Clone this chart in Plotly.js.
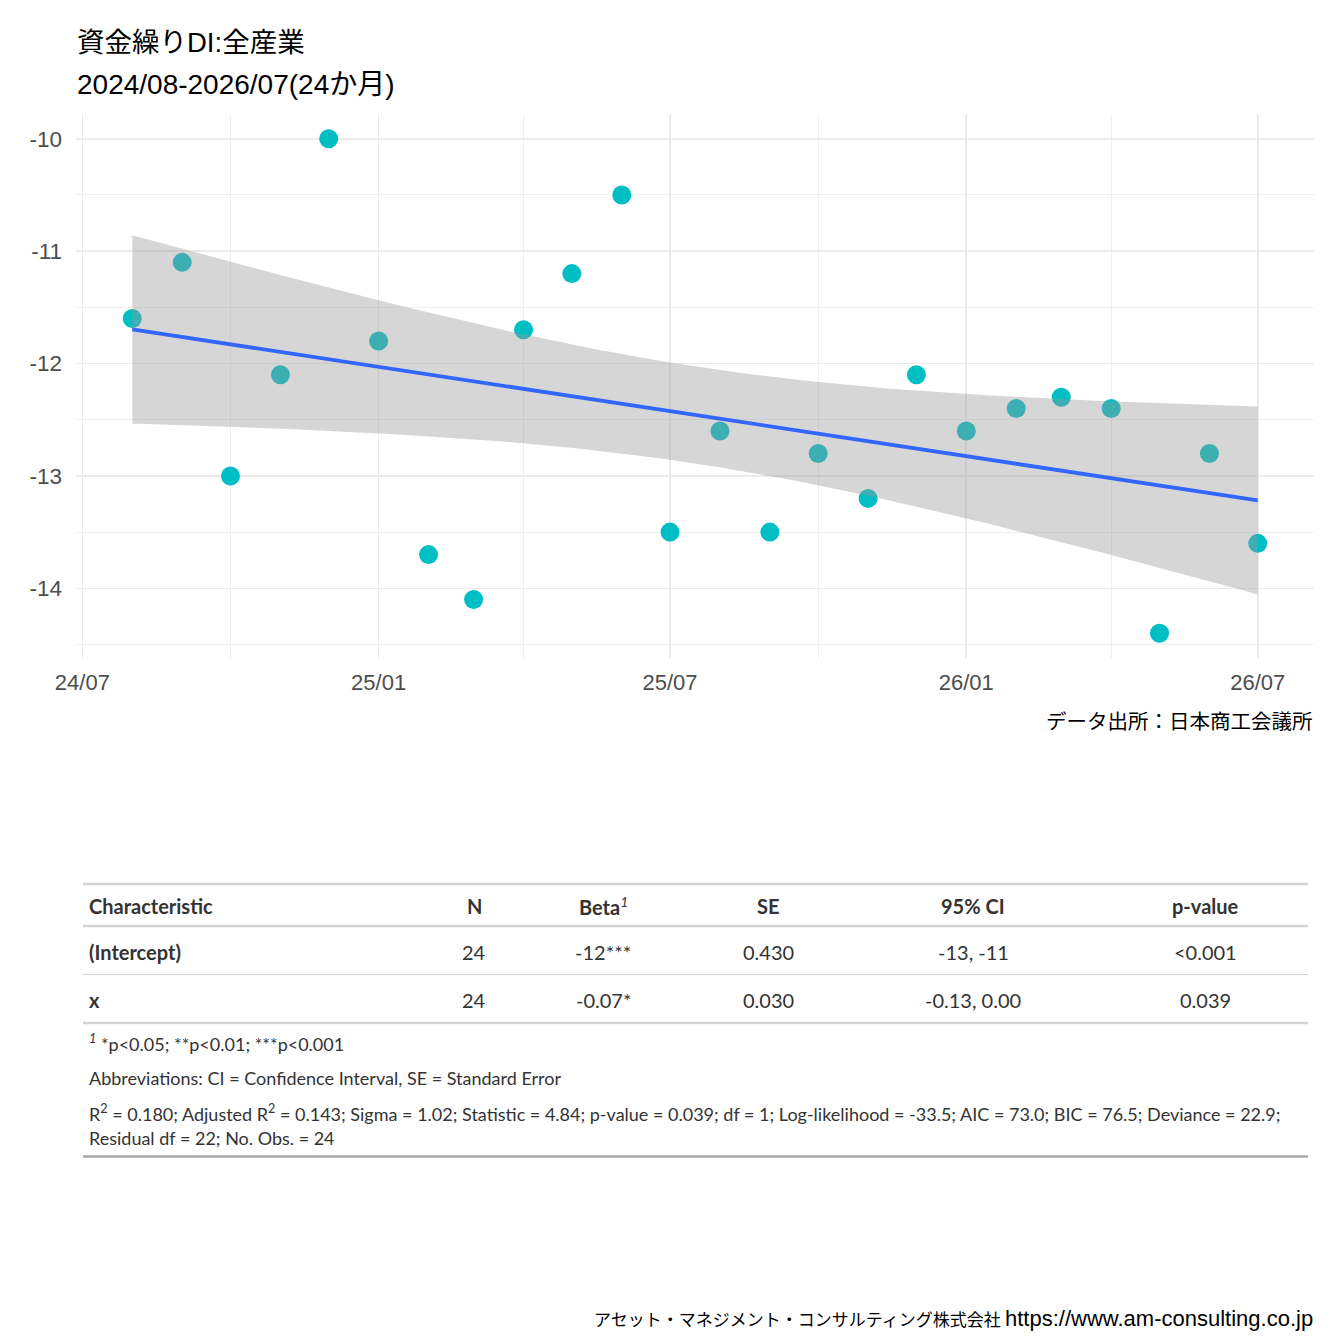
<!DOCTYPE html>
<html>
<head>
<meta charset="utf-8">
<script src="https://cdn.plot.ly/plotly-3.0.1.min.js"></script>
<style>
  html, body { margin: 0; padding: 0; background: #fff; }
  #chart { width: 1344px; height: 1344px; }
</style>
</head>
<body>
<div id="chart"></div>
<script>
// monthly values
var months = ['2024-08-01', '2024-09-01', '2024-10-01', '2024-11-01', '2024-12-01', '2025-01-01',
              '2025-02-01', '2025-03-01', '2025-04-01', '2025-05-01', '2025-06-01', '2025-07-01',
              '2025-08-01', '2025-09-01', '2025-10-01', '2025-11-01', '2025-12-01', '2026-01-01',
              '2026-02-01', '2026-03-01', '2026-04-01', '2026-05-01', '2026-06-01', '2026-07-01'];
var di = [-11.6, -11.1, -13.0, -12.1, -10.0, -11.8, -13.7, -14.1, -11.7, -11.2, -10.5, -13.5,
          -12.6, -13.5, -12.8, -13.2, -12.1, -12.6, -12.4, -12.3, -12.4, -14.4, -12.8, -13.6];

var yTicks = [-14, -13, -12, -11, -10];
var yTickText = ['-14', '-13', '-12', '-11', '-10'];

// regression table (gtsummary style)
var tblHeader = ['Characteristic', 'N', 'Beta', 'SE', '95% CI', 'p-value'];
var tblTerms = ['(Intercept)', 'x'];
var tblN = ['24', '24'];
var tblBeta = ['-12***', '-0.07*'];
var tblSE = ['0.430', '0.030'];
var tblCI = ['-13, -11', '-0.13, 0.00'];
var tblP = ['<0.001', '0.039'];
var tblNotes = [
  '<i><sup>1</sup></i> *p<0.05; **p<0.01; ***p<0.001',
  'Abbreviations: CI = Confidence Interval, SE = Standard Error',
  'R<sup>2</sup> = 0.180; Adjusted R<sup>2</sup> = 0.143; Sigma = 1.02; Statistic = 4.84; p-value = 0.039; df = 1; Log-likelihood = -33.5; AIC = 73.0; BIC = 76.5; Deviance = 22.9;',
  'Residual df = 22; No. Obs. = 24'
];

// ---- linear fit + 95% band (like geom_smooth(method = "lm")) ----
var DAY = 86400000;
var t0 = Date.parse(months[0] + 'T00:00:00Z');
var xs = months.map(function (m) { return (Date.parse(m + 'T00:00:00Z') - t0) / DAY; });
var n = xs.length;
var xbar = 0, ybar = 0;
for (var i = 0; i < n; i++) { xbar += xs[i]; ybar += di[i]; }
xbar /= n; ybar /= n;
var sxx = 0, sxy = 0;
for (var i = 0; i < n; i++) { sxx += (xs[i] - xbar) * (xs[i] - xbar); sxy += (xs[i] - xbar) * (di[i] - ybar); }
var slope = sxy / sxx;
var icpt = ybar - slope * xbar;
var ssr = 0;
for (var i = 0; i < n; i++) { var r = di[i] - (icpt + slope * xs[i]); ssr += r * r; }
var sigma = Math.sqrt(ssr / (n - 2));
var tcrit = 2.0739; // qt(0.975, 22)

function toDateStr(d) {
  return new Date(t0 + d * DAY).toISOString().slice(0, 19).replace('T', ' ');
}

var gx = [], gfit = [], gup = [], glo = [];
var xmax = xs[n - 1];
for (var k = 0; k < 80; k++) {
  var d = xmax * k / 79;
  var f = icpt + slope * d;
  var se = sigma * Math.sqrt(1 / n + (d - xbar) * (d - xbar) / sxx);
  gx.push(toDateStr(d));
  gfit.push(f);
  gup.push(f + tcrit * se);
  glo.push(f - tcrit * se);
}

// axis ranges with ggplot's 5% expansion
var ymin = Math.min.apply(null, di), ymax = Math.max.apply(null, di);
var yr = [ymin - 0.05 * (ymax - ymin), ymax + 0.05 * (ymax - ymin)];
var xr = [toDateStr(-0.05 * xmax), toDateStr(xmax * 1.05)];

var pts = {
  x: months, y: di, type: 'scatter', mode: 'markers',
  marker: { color: '#00BFC4', size: 19 },
  hoverinfo: 'skip', showlegend: false
};
var band = {
  x: gx.concat(gx.slice().reverse()),
  y: gup.concat(glo.slice().reverse()),
  type: 'scatter', mode: 'lines', fill: 'toself',
  fillcolor: 'rgba(153,153,153,0.4)', line: { width: 0 },
  hoverinfo: 'skip', showlegend: false
};
var fitLine = {
  x: gx, y: gfit, type: 'scatter', mode: 'lines',
  line: { color: '#3366FF', width: 3.8 },
  hoverinfo: 'skip', showlegend: false
};

// page is 1344 px square; place things in pixel terms
var W = 1344;
function px(x) { return x / W; }
function py(y) { return 1 - y / W; }

var sans = 'Liberation Sans, Arial, Noto Sans CJK JP';
var jp = 'Noto Sans CJK JP';
var tfont = 'Lato, Noto Sans, sans-serif';

var ann = [];
function addText(text, x, y, xanchor, size, color, family) {
  ann.push({
    text: text, xref: 'paper', yref: 'paper', x: px(x), y: py(y),
    xanchor: xanchor, yanchor: 'middle', showarrow: false,
    font: { family: family, size: size, color: color }
  });
}

// titles and captions
addText('資金繰りDI:全産業', 75, 42, 'left', 27.5, '#000000', sans);
addText('2024/08-2026/07(24か月)', 75, 84, 'left', 28, '#000000', sans);
addText('データ出所：日本商工会議所', 1315, 720, 'right', 20.5, '#000000', jp);
addText('https://www.am-consulting.co.jp', 1315, 1318, 'right', 22, '#000000', sans);
addText('アセット・マネジメント・コンサルティング株式会社', 1003, 1318, 'right', 17, '#000000', jp);

// table
var colX = [87, 474, 603, 768, 973, 1205];
var tcol = '#333333';
for (var c = 0; c < tblHeader.length; c++) {
  var h = '<b>' + tblHeader[c] + '</b>';
  if (tblHeader[c] === 'Beta') h += '<i><sup>1</sup></i>';
  addText(h, colX[c], 906, c === 0 ? 'left' : 'center', 20, tcol, tfont);
}
var rowY = [952, 1000];
for (var r = 0; r < tblTerms.length; r++) {
  var cells = [tblN[r], tblBeta[r], tblSE[r], tblCI[r], tblP[r]];
  addText('<b>' + tblTerms[r] + '</b>', colX[0], rowY[r], 'left', 20, tcol, tfont);
  for (var c = 0; c < cells.length; c++) {
    addText(cells[c], colX[c + 1], rowY[r], 'center', 20, tcol, tfont);
  }
}
var noteY = [1043, 1078, 1113, 1138];
for (var k = 0; k < tblNotes.length; k++) {
  addText(tblNotes[k], 87, noteY[k], 'left', 18, tcol, tfont);
}

function hline(y, color, width) {
  return {
    type: 'line', xref: 'paper', yref: 'paper', x0: px(83), x1: px(1308), y0: py(y), y1: py(y),
    line: { color: color, width: width }
  };
}
var shapes = [
  hline(884, '#D3D3D3', 2.5),
  hline(926, '#D3D3D3', 2.5),
  hline(974.5, '#D3D3D3', 1.2),
  hline(1023, '#D3D3D3', 2.5),
  hline(1156.5, '#A8A8A8', 2.5)
];

var layout = {
  width: 1344, height: 1344,
  margin: { l: 0, r: 0, t: 0, b: 0 },
  paper_bgcolor: '#ffffff', plot_bgcolor: '#ffffff',
  showlegend: false,
  xaxis: {
    type: 'date', domain: [px(76), px(1314)], range: xr,
    tick0: '2024-07-01', dtick: 'M6', tickformat: '%y/%m',
    showgrid: true, gridcolor: '#EBEBEB', gridwidth: 1.6,
    minor: { tick0: '2024-07-01', dtick: 'M3', showgrid: true, gridcolor: '#EBEBEB', gridwidth: 0.8 },
    zeroline: false, showline: false, ticks: '', ticklabelstandoff: 9,
    tickfont: { family: sans, size: 22, color: '#4D4D4D' }
  },
  yaxis: {
    domain: [py(658), py(114)], range: yr,
    tickmode: 'array', tickvals: yTicks, ticktext: yTickText,
    showgrid: true, gridcolor: '#EBEBEB', gridwidth: 1.6,
    minor: { tickmode: 'linear', tick0: -10.5, dtick: 1, showgrid: true, gridcolor: '#EBEBEB', gridwidth: 0.8 },
    zeroline: false, showline: false, ticks: '', ticklabelstandoff: 13,
    tickfont: { family: sans, size: 22.5, color: '#4D4D4D' }
  },
  annotations: ann,
  shapes: shapes
};

Plotly.newPlot('chart', [pts, band, fitLine], layout, { staticPlot: true });
</script>
</body>
</html>
